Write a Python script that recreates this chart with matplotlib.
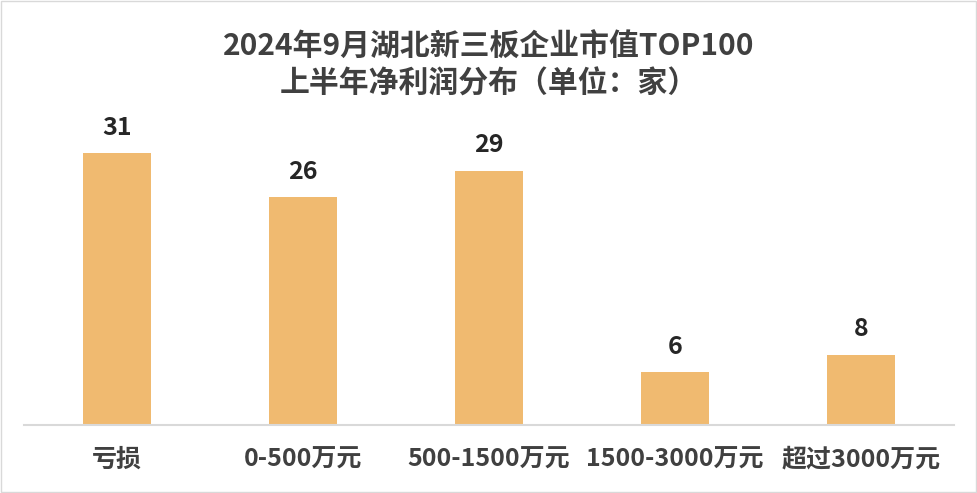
import matplotlib.pyplot as plt
import numpy as np

plt.rcParams['font.family'] = ['Noto Sans CJK SC', 'DejaVu Sans']

categories = ['亏损', '0-500万元', '500-1500万元', '1500-3000万元', '超过3000万元']
counts = [31, 26, 29, 6, 8]
title = '2024年9月湖北新三板企业市值TOP100\n上半年净利润分布（单位：家）'

fig = plt.figure(figsize=(9.78, 4.93), dpi=100)
ax = fig.add_axes([24 / 978, 68 / 493, 930 / 978, 307 / 493])

x = np.arange(len(categories))
bars = ax.bar(x, counts, width=68 / 186, color='#f0ba70', zorder=2)
for b, v in zip(bars, counts):
    ax.text(b.get_x() + b.get_width() / 2, v + 2.1, str(v), ha='center', va='baseline',
            fontsize=18, fontweight='bold', color='#262626')

ax.set_xlim(-0.5, len(categories) - 0.5)
ax.set_ylim(0, 35)
ax.set_xticks(x)
ax.set_xticklabels(categories, fontsize=18, fontweight='bold', color='#404040')
ax.tick_params(axis='x', length=0, pad=16)
ax.set_yticks([])
for s in ['top', 'right', 'left']:
    ax.spines[s].set_visible(False)
ax.spines['bottom'].set_color('#d9d9d9')
ax.spines['bottom'].set_linewidth(1.5)

fig.text(0.5, 0.935, title, ha='center', va='top', fontsize=21.5, fontweight='bold',
         color='#404040', linespacing=1.28)

fig.patches.append(plt.Rectangle((0.001, 0.002), 0.997, 0.996, transform=fig.transFigure,
                                 fill=False, edgecolor='#d9d9d9', linewidth=1))

fig.savefig('out.png', dpi=100)
